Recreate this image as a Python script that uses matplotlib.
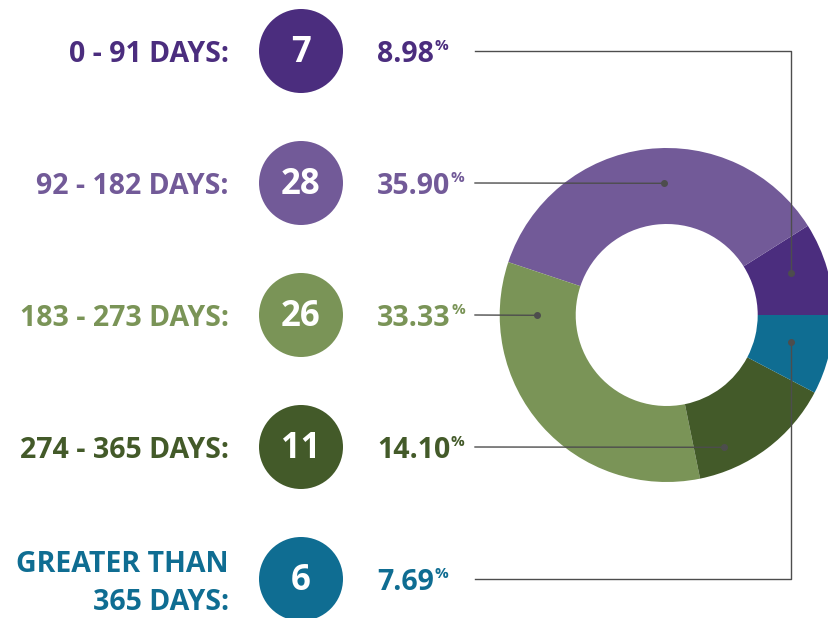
import matplotlib.pyplot as plt
from matplotlib.patches import Circle

# data
labels = ['0 - 91 DAYS:', '92 - 182 DAYS:', '183 - 273 DAYS:', '274 - 365 DAYS:', 'GREATER THAN\n365 DAYS:']
counts = [7, 28, 26, 11, 6]
pcts = ['8.98', '35.90', '33.33', '14.10', '7.69']
colors = ['#4b2d7e', '#725a98', '#7a9457', '#435a29', '#0f6d92']

W, H = 829, 618
fig = plt.figure(figsize=(W / 100, H / 100), dpi=100)
ax = fig.add_axes([0, 0, 1, 1])

# donut, drawn clockwise in data since y axis is flipped
cx, cy, r_out, r_in = 666.7, 315, 167, 91
ax.pie(counts, colors=colors, startangle=0, counterclock=False,
       center=(cx, cy), radius=r_out,
       wedgeprops=dict(width=r_out - r_in, linewidth=0))

ax.set_xlim(0, W)
ax.set_ylim(H, 0)
ax.set_aspect('equal')
ax.axis('off')

row_y = [51, 183, 315, 447, 579]
font = 'Open Sans'
wt = 'bold'
fs = 20.5
line_c = '#4d4d4d'

for i, (lab, n, p, c) in enumerate(zip(labels, counts, pcts, colors)):
    y = row_y[i]
    if '\n' in lab:
        top, bot = lab.split('\n')
        ax.text(229, y - 7.5, top, ha='right', va='baseline', color=c,
                fontsize=fs, fontweight=wt, family=font)
        ax.text(229, y + 31, bot, ha='right', va='baseline', color=c,
                fontsize=fs, fontweight=wt, family=font)
    else:
        ax.text(229, y + 11.5, lab, ha='right', va='baseline', color=c,
                fontsize=fs, fontweight=wt, family=font)
    ax.add_patch(Circle((301, y), 42, color=c, lw=0))
    ax.text(301, y + 10.5, str(n), ha='center', va='baseline', color='white',
            fontsize=25, fontweight=wt, family=font)
    t = ax.text(377, y + 11.5, p, ha='left', va='baseline', color=c,
                fontsize=fs, fontweight=wt, family=font)
    ax.annotate('%', xy=(1, 1), xycoords=t, xytext=(0.5, 1), textcoords='offset points',
                ha='left', va='top', color=c, fontsize=11, fontweight=wt, family=font)

# leader lines
dots = [(790.7, 273.3), (664.3, 183.3), (537.3, 315.3), (724.3, 447.3), (790.7, 342)]
x0 = 475
for i, (dx, dy) in enumerate(dots):
    y = row_y[i]
    if abs(dy - y) < 1:
        xs, ys = [x0, dx], [y, dy]
    else:
        xs, ys = [x0, dx, dx], [y, y, dy]
    ax.plot(xs, ys, color=line_c, lw=1)
    ax.plot(dx, dy, 'o', color=line_c, ms=4)

fig.savefig('out.png', dpi=100)
